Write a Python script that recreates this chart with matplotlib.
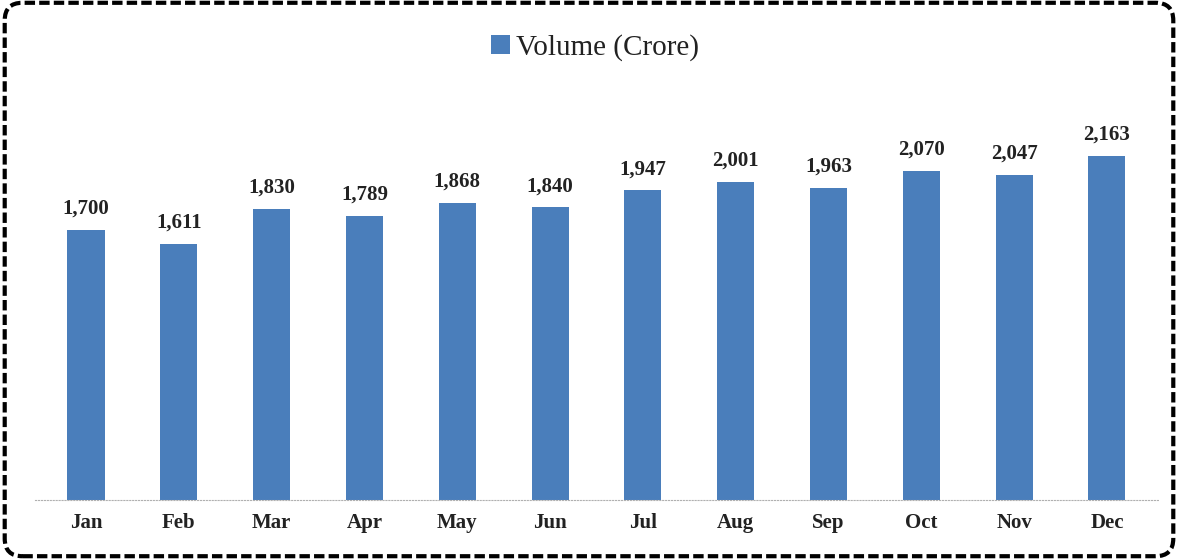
import matplotlib.pyplot as plt
from matplotlib.patches import FancyBboxPatch

months = ['Jan', 'Feb', 'Mar', 'Apr', 'May', 'Jun', 'Jul', 'Aug', 'Sep', 'Oct', 'Nov', 'Dec']
volume = [1700, 1611, 1830, 1789, 1868, 1840, 1947, 2001, 1963, 2070, 2047, 2163]

plt.rcParams['font.family'] = ['Liberation Serif', 'DejaVu Serif']

fig = plt.figure(figsize=(11.78, 5.59), dpi=100)
ax = fig.add_axes([0.0297, 0.1055, 0.9533, 0.7111])

bars = ax.bar(months, volume, width=0.4, color='#4A7EBB', label='Volume (Crore)')

for rect, v in zip(bars, volume):
    ax.annotate(f'{v:,}', (rect.get_x() + rect.get_width() / 2, v),
                xytext=(0, 8), textcoords='offset points',
                ha='center', va='bottom', fontsize=15, fontweight='bold', color='#222222')

ax.set_xlim(-0.55, 11.55)
ax.set_ylim(0, 2500)
ax.set_yticks([])
for s in ['top', 'right', 'left']:
    ax.spines[s].set_visible(False)
ax.spines['bottom'].set_color('#b0b0b0')
ax.spines['bottom'].set_linestyle(':')
ax.tick_params(axis='x', length=0, pad=9, labelsize=15, colors='#222222')
for lbl in ax.get_xticklabels():
    lbl.set_fontweight('bold')

fig.legend(loc='center', bbox_to_anchor=(0.505, 0.915), frameon=False, fontsize=21,
           handlelength=0.65, handleheight=0.65, handletextpad=0.2, labelcolor='#222222')

# dashed rounded border around the whole figure
border = FancyBboxPatch((0.004, 0.005), 0.992, 0.99, boxstyle='round,pad=0,rounding_size=0.015',
                        transform=fig.transFigure, fill=False, edgecolor='black',
                        linewidth=3, linestyle=(0, (2.5, 1)), mutation_aspect=1178 / 559)
fig.patches.append(border)

plt.savefig('out.png', dpi=100)
plt.close()
